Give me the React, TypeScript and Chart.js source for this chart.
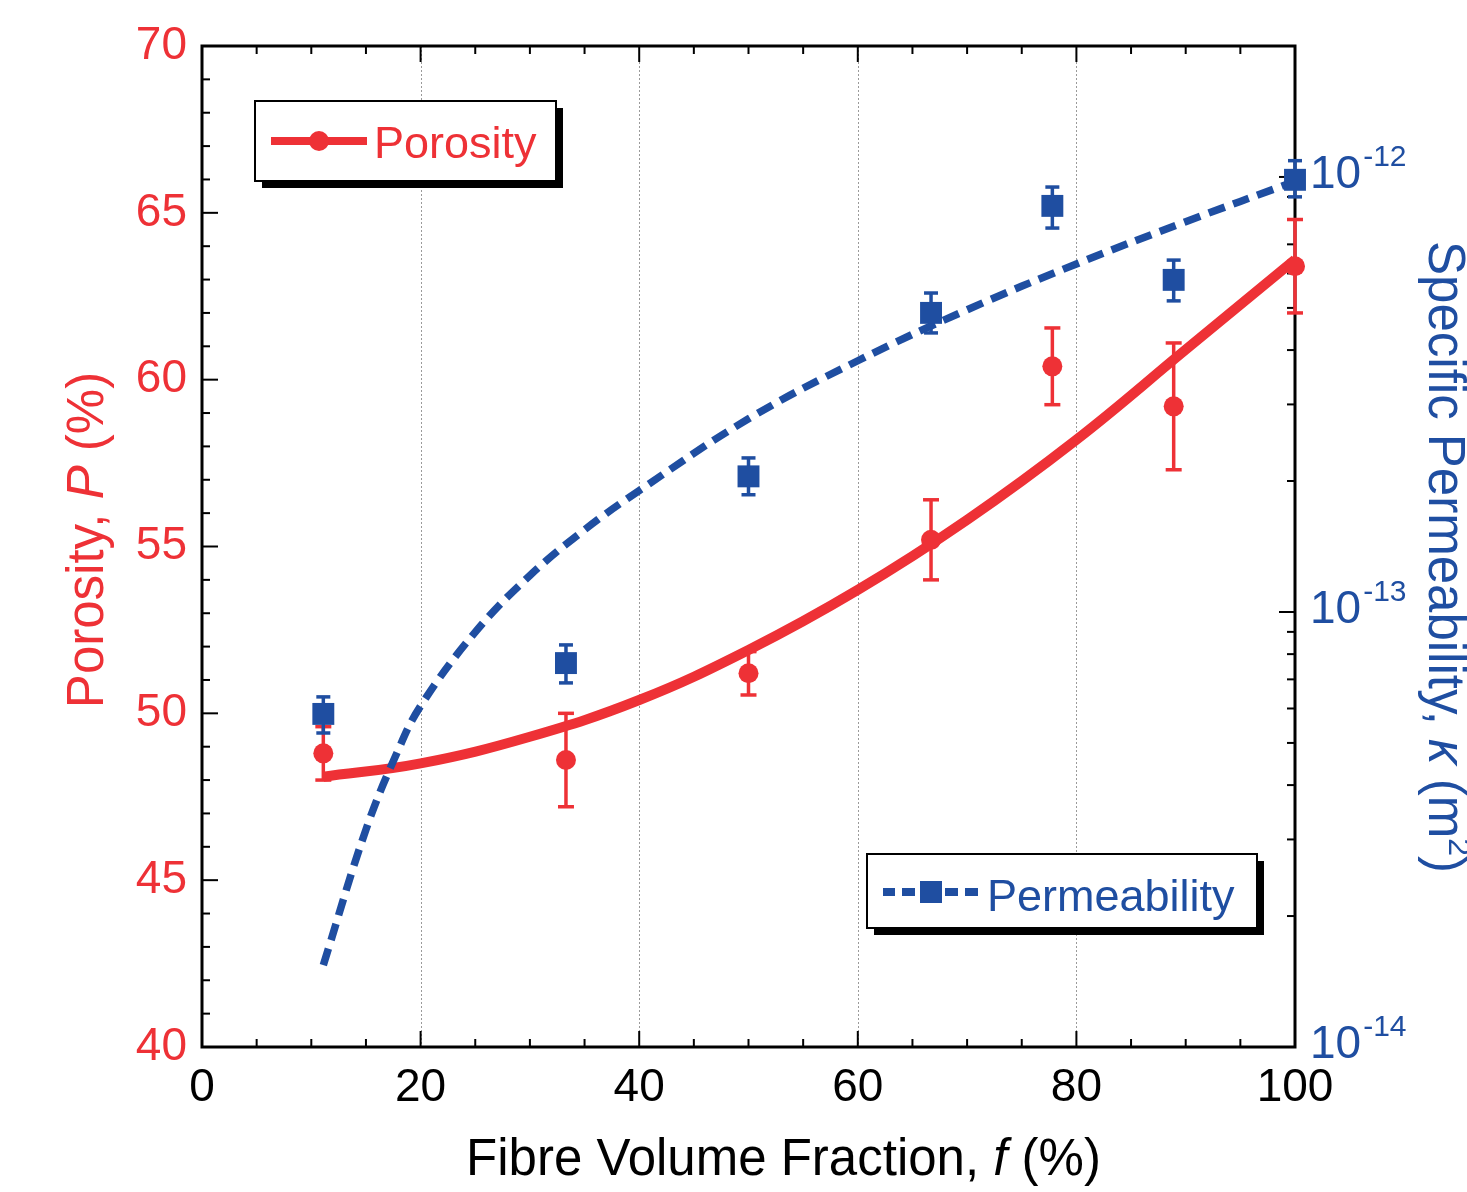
import React, { useEffect, useRef } from 'react';
import { Chart, registerables } from 'chart.js';

Chart.register(...registerables);

const RED = '#EE3136';
const BLUE = '#1F4EA1';
const FONT = '"Liberation Sans", Arial, Helvetica, sans-serif';

// Measured data (fibre volume fraction, %)
const fibreFraction = [11.1, 33.3, 50.0, 66.7, 77.8, 88.9, 100.0];
const porosity = [48.8, 48.6, 51.2, 55.2, 60.4, 59.2, 63.4];
const porosityErr = [0.8, 1.4, 0.65, 1.2, 1.15, 1.9, 1.4];
const permeability = [5.83e-14, 7.63e-14, 2.05e-13, 4.87e-13, 8.58e-13, 5.8e-13, 9.85e-13];
const permeabilityLow = [5.27e-14, 6.87e-14, 1.86e-13, 4.38e-13, 7.63e-13, 5.19e-13, 9.0e-13];
const permeabilityHigh = [6.38e-14, 8.4e-14, 2.26e-13, 5.41e-13, 9.48e-13, 6.44e-13, 1.09e-12];

// Fitted curves
const porosityFitX = [11.1, 20, 30, 40, 50, 60, 70, 80, 90, 100];
const porosityFit = [48.1, 48.5, 49.3, 50.4, 51.9, 53.7, 55.8, 58.2, 60.9, 63.6];
const permeabilityFitX = [11.1, 15, 17.8, 20, 25, 30, 35, 40, 50, 60, 70, 80, 90, 100];
const permeabilityFit = [1.543e-14, 3.16e-14, 4.72e-14, 6.08e-14, 8.99e-14, 1.213e-13, 1.545e-13, 1.901e-13, 2.78e-13, 3.78e-13, 4.95e-13, 6.31e-13, 7.89e-13, 9.77e-13];

// Axes
const xMin = 0;
const xMax = 100;
const xGridValues = [20, 40, 60, 80];
const leftMin = 40;
const leftMax = 70;
const rightMin = 1e-14;
const rightMax = 2e-12;
const rightTickExponents = [-14, -13, -12];

type Part = { t: string; italic?: boolean; sup?: boolean };

function drawMixed(ctx: CanvasRenderingContext2D, parts: Part[], size: number, color: string) {
  const fontFor = (p: Part) => `${p.italic ? 'italic ' : ''}${p.sup ? Math.round(size * 0.62) : size}px ${FONT}`;
  let total = 0;
  parts.forEach((p) => {
    ctx.font = fontFor(p);
    total += ctx.measureText(p.t).width;
  });
  let cx = -total / 2;
  ctx.fillStyle = color;
  ctx.textBaseline = 'alphabetic';
  ctx.textAlign = 'left';
  parts.forEach((p) => {
    ctx.font = fontFor(p);
    ctx.fillText(p.t, cx, p.sup ? -size * 0.4 : 0);
    cx += ctx.measureText(p.t).width;
  });
}

function line(ctx: CanvasRenderingContext2D, x1: number, y1: number, x2: number, y2: number) {
  ctx.beginPath();
  ctx.moveTo(x1, y1);
  ctx.lineTo(x2, y2);
  ctx.stroke();
}

function legendBox(ctx: CanvasRenderingContext2D, x: number, y: number, w: number, h: number) {
  ctx.fillStyle = '#000';
  ctx.fillRect(x + 7, y + 7, w, h);
  ctx.fillStyle = '#fff';
  ctx.fillRect(x, y, w, h);
  ctx.strokeStyle = '#000';
  ctx.lineWidth = 2;
  ctx.strokeRect(x, y, w, h);
}

const decorPlugin = {
  id: 'decor',
  beforeDatasetsDraw(chart: any) {
    const { ctx, chartArea: a, scales } = chart;
    const sx = scales.x;
    const sy = scales.y;
    const sy2 = scales.y2;
    ctx.save();
    // vertical dotted grid
    ctx.strokeStyle = '#9a9a9a';
    ctx.lineWidth = 1;
    ctx.setLineDash([2, 2]);
    xGridValues.forEach((v) => {
      const px = Math.round(sx.getPixelForValue(v)) + 0.5;
      line(ctx, px, a.top, px, a.bottom);
    });
    ctx.setLineDash([]);
    // inward ticks
    ctx.strokeStyle = '#000';
    ctx.lineWidth = 2;
    for (let v = xMin; v <= xMax; v += 5) {
      const px = sx.getPixelForValue(v);
      const len = v % 20 === 0 ? 16 : 8;
      line(ctx, px, a.bottom, px, a.bottom - len);
      line(ctx, px, a.top, px, a.top + len);
    }
    for (let v = leftMin; v <= leftMax; v += 1) {
      const py = sy.getPixelForValue(v);
      const len = v % 5 === 0 ? 16 : 8;
      line(ctx, a.left, py, a.left + len, py);
    }
    for (let e = -14; e <= -12; e++) {
      for (let m = 1; m <= 9; m++) {
        const val = m * Math.pow(10, e);
        if (val > rightMax * 1.0001) break;
        const py = sy2.getPixelForValue(val);
        const len = m === 1 ? 16 : 8;
        line(ctx, a.right, py, a.right - len, py);
      }
    }
    // frame
    ctx.lineWidth = 3;
    ctx.strokeRect(a.left, a.top, a.right - a.left, a.bottom - a.top);
    // error bars
    ctx.lineWidth = 3.5;
    ctx.strokeStyle = RED;
    fibreFraction.forEach((f, i) => {
      const px = sx.getPixelForValue(f);
      const top = sy.getPixelForValue(porosity[i] + porosityErr[i]);
      const bot = sy.getPixelForValue(porosity[i] - porosityErr[i]);
      line(ctx, px, top, px, bot);
      line(ctx, px - 8, top, px + 8, top);
      line(ctx, px - 8, bot, px + 8, bot);
    });
    ctx.strokeStyle = BLUE;
    fibreFraction.forEach((f, i) => {
      const px = sx.getPixelForValue(f);
      const top = sy2.getPixelForValue(permeabilityHigh[i]);
      const bot = sy2.getPixelForValue(permeabilityLow[i]);
      line(ctx, px, top, px, bot);
      line(ctx, px - 7, top, px + 7, top);
      line(ctx, px - 7, bot, px + 7, bot);
    });
    ctx.restore();
  },
  afterDraw(chart: any) {
    const { ctx, chartArea: a, scales } = chart;
    const sy2 = scales.y2;
    ctx.save();
    // right tick labels 10^n
    rightTickExponents.forEach((e) => {
      const py = sy2.getPixelForValue(Math.pow(10, e));
      ctx.fillStyle = BLUE;
      ctx.textAlign = 'left';
      ctx.textBaseline = 'alphabetic';
      ctx.font = `46px ${FONT}`;
      const x0 = a.right + 15;
      ctx.fillText('10', x0, py + 11);
      const w = ctx.measureText('10').width;
      ctx.font = `30px ${FONT}`;
      ctx.fillText('-' + Math.abs(e), x0 + w + 2, py - 11);
    });
    // axis titles
    ctx.save();
    ctx.translate((a.left + a.right) / 2 + 35, 1175);
    drawMixed(ctx, [{ t: 'Fibre Volume Fraction, ' }, { t: 'f', italic: true }, { t: ' (%)' }], 51, '#000');
    ctx.restore();

    ctx.save();
    ctx.translate(103, 540);
    ctx.rotate(-Math.PI / 2);
    drawMixed(ctx, [{ t: 'Porosity, ' }, { t: 'P', italic: true }, { t: ' (%)' }], 51, RED);
    ctx.restore();

    ctx.save();
    ctx.translate(1429, 557);
    ctx.rotate(Math.PI / 2);
    drawMixed(
      ctx,
      [{ t: 'Specific Permeability, ' }, { t: 'κ', italic: true }, { t: ' (m' }, { t: '2', sup: true }, { t: ')' }],
      51,
      BLUE
    );
    ctx.restore();

    // legends
    legendBox(ctx, 255, 101, 301, 80);
    ctx.strokeStyle = RED;
    ctx.lineWidth = 8;
    line(ctx, 271, 141, 367, 141);
    ctx.fillStyle = RED;
    ctx.beginPath();
    ctx.arc(319, 141, 10, 0, Math.PI * 2);
    ctx.fill();
    ctx.font = `45px ${FONT}`;
    ctx.textAlign = 'left';
    ctx.textBaseline = 'alphabetic';
    ctx.fillText('Porosity', 374, 158);

    legendBox(ctx, 867, 854, 390, 74);
    ctx.strokeStyle = BLUE;
    ctx.lineWidth = 8;
    [[883, 895], [902, 915], [945, 958], [965, 978]].forEach(([s, e]) => line(ctx, s, 892, e, 892));
    ctx.fillStyle = BLUE;
    ctx.fillRect(920, 881, 22, 22);
    ctx.font = `45px ${FONT}`;
    ctx.fillText('Permeability', 987, 911);
    ctx.restore();
  },
};

export default function App() {
  const ref = useRef<HTMLCanvasElement>(null);
  useEffect(() => {
    if (!ref.current) return;
    const chart = new Chart(ref.current, {
      type: 'scatter',
      data: {
        datasets: [
          {
            label: 'Permeability points',
            data: fibreFraction.map((f, i) => ({ x: f, y: permeability[i] })),
            yAxisID: 'y2',
            pointStyle: 'rect',
            pointRadius: 15.5,
            backgroundColor: BLUE,
            borderColor: BLUE,
            borderWidth: 0,
            showLine: false,
            clip: false as any,
            order: 0,
          },
          {
            label: 'Porosity points',
            data: fibreFraction.map((f, i) => ({ x: f, y: porosity[i] })),
            yAxisID: 'y',
            pointStyle: 'circle',
            pointRadius: 10,
            backgroundColor: RED,
            borderColor: RED,
            borderWidth: 0,
            showLine: false,
            clip: false as any,
            order: 1,
          },
          {
            label: 'Permeability fit',
            data: permeabilityFitX.map((f, i) => ({ x: f, y: permeabilityFit[i] })),
            yAxisID: 'y2',
            showLine: true,
            pointRadius: 0,
            borderColor: BLUE,
            borderWidth: 7.5,
            borderDash: [17, 9],
            tension: 0.4,
            clip: false as any,
            order: 2,
          },
          {
            label: 'Porosity fit',
            data: porosityFitX.map((f, i) => ({ x: f, y: porosityFit[i] })),
            yAxisID: 'y',
            showLine: true,
            pointRadius: 0,
            borderColor: RED,
            borderWidth: 10,
            tension: 0.4,
            clip: false as any,
            order: 3,
          },
        ],
      },
      options: {
        animation: false,
        responsive: false,
        devicePixelRatio: 1,
        layout: { padding: { top: 46, left: 0, right: 0, bottom: 0 } },
        plugins: { legend: { display: false }, tooltip: { enabled: false } },
        scales: {
          x: {
            type: 'linear',
            min: xMin,
            max: xMax,
            grid: { display: false, drawTicks: false },
            border: { display: false },
            ticks: {
              stepSize: 20,
              autoSkip: false,
              maxRotation: 0,
              color: '#000',
              font: { size: 46, family: FONT },
              padding: 14,
            },
            afterFit: (s: any) => {
              s.height = 145;
            },
          },
          y: {
            type: 'linear',
            position: 'left',
            min: leftMin,
            max: leftMax,
            grid: { display: false, drawTicks: false },
            border: { display: false },
            ticks: {
              stepSize: 5,
              color: RED,
              font: { size: 46, family: FONT },
              padding: 15,
            },
            afterFit: (s: any) => {
              s.width = 202;
            },
          },
          y2: {
            type: 'logarithmic',
            position: 'right',
            min: rightMin,
            max: rightMax,
            grid: { display: false, drawTicks: false },
            border: { display: false },
            ticks: { display: false },
            afterFit: (s: any) => {
              s.width = 172;
            },
          },
        },
      } as any,
      plugins: [decorPlugin],
    });
    return () => chart.destroy();
  }, []);
  return (
    <div style={{ position: 'absolute', left: 0, top: 0, width: 1467, height: 1192, background: '#fff', overflow: 'hidden' }}>
      <canvas ref={ref} width={1467} height={1192} style={{ width: 1467, height: 1192, display: 'block' }} />
    </div>
  );
}
